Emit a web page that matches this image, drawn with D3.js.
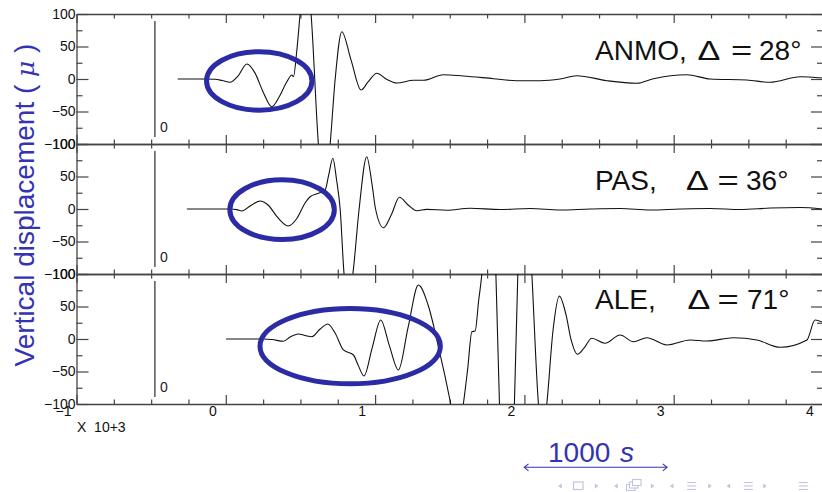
<!DOCTYPE html>
<html>
<head>
<meta charset="utf-8">
<script src="https://cdn.jsdelivr.net/npm/d3@7"></script>
<style>
  body { margin: 0; background: #fff; }
  svg { display: block; font-family: "Liberation Sans", Arial, Helvetica, sans-serif; }
</style>
</head>
<body>
<div id="chart"></div>
<script>
// stations, epicentral distance (deg)
const stations = ['ANMO', 'PAS', 'ALE'];
const distances = [28, 36, 71];

// time (s) and vertical displacement (micron)
const anmoTime = [-322, -172, -72, -25, 29, 82, 141, 196, 250, 308, 357, 409, 442, 453, 476, 498, 535, 571, 620, 658, 699, 732, 777, 839, 906, 953, 1011, 1074, 1145, 1257, 1324, 1458, 1591, 1792, 1949, 2105, 2239, 2351, 2552, 2753, 2864, 3088, 3244, 3490, 3646, 3847, 3994];
const anmoDisp = [0, 0, -0.5, -2.3, -5, 4.6, 23, 9, -20, -42.6, -27.7, -4.2, 6.2, 3.5, 44.6, 100, 170, 100, -100, -185, -100, -1.5, 72.8, 29, -17, -4.6, 8.8, 0, -6.2, -2, -2, 6.6, 4.6, 0.5, -2.6, -2.6, 0, 5.1, -2.6, -6.6, 0.5, 6.6, 0, -1.5, -5.1, 3.5, 1.5];

const pasTime = [-261, 29, 74, 107, 163, 230, 283, 350, 419, 478, 531, 565, 620, 665, 689, 717, 742, 766, 792, 821, 851, 893, 944, 980, 1003, 1056, 1108, 1163, 1221, 1279, 1346, 1480, 1636, 1837, 2038, 2239, 2440, 2641, 2842, 3043, 3244, 3445, 3646, 3847, 3994];
const pasDisp = [0, 0, -1, -3.1, 4.6, 12.3, 6.2, -13.8, -26.2, -13.8, 9.2, 18.9, 24.2, 29.2, 52, 78, 44.6, 0, -100, -140, -100, 0, 80.5, 37, 0, -28.8, -9.2, 18, 6.2, -2.6, -0.5, -2, 1.1, -0.8, 0.8, -1.5, 0, 0.8, -1.5, 0, 0.8, -0.8, 1.5, 2.3, 0];

const aleTime = [2, 252, 310, 386, 431, 486, 531, 576, 632, 683, 732, 788, 855, 886, 926, 980, 1038, 1094, 1156, 1221, 1290, 1355, 1424, 1507, 1549, 1591, 1621, 1648, 1670, 1694, 1715, 1762, 1809, 1833, 1883, 1933, 1956, 2003, 2050, 2094, 2122, 2150, 2192, 2234, 2279, 2313, 2355, 2400, 2451, 2540, 2641, 2730, 2820, 2954, 3110, 3222, 3400, 3557, 3713, 3892, 3947, 3994];
const aleDisp = [0, 0, -0.8, -3.5, 3.1, 7.7, 5.4, 3.5, 15.4, 23.1, 9.2, -16.9, -24.6, -40, -56.9, -14, 29.2, -9, -47.7, 17.7, 83, 52.3, -11.8, -100, -150, -100, -44, 11.2, 12.3, 60, 100, 300, 100, -100, -300, -100, 100, 300, 100, -100, -150, -100, 13.8, 66, 37, -1.5, -23.5, -13.8, 1.1, -6.6, 6.2, -4.2, 2, -9.2, -1.5, -3.1, 2, -1.5, -12.8, -1.5, 29.2, 26];

// picked first arrivals (ellipses): centre time, centre disp, half width (s), half height
const pickTime = [224, 377, 833];
const pickDisp = [-3, -1, -11];
const pickHalfWidth = [353, 350, 604];
const pickHalfHeight = [45, 46, 58];

// axis ticks
const xMajorTicks = [-1000, 0, 1000, 2000, 3000, 4000];
const xMinorTicks = d3.range(-1000, 4001, 250).filter(d => d % 1000 !== 0);
const yMajorTicks = [-100, -50, 0, 50, 100];
const yMinorTicks = [-75, -25, 25, 75];
const markerTime = -475;

const traces = [
  {time: anmoTime, disp: anmoDisp},
  {time: pasTime, disp: pasDisp},
  {time: aleTime, disp: aleDisp}
];

class SeismoChart {

  constructor(_config) {
    this.config = {
      parentElement: _config.parentElement,
      containerWidth: 822,
      containerHeight: 492,
      left: 76.5,
      right: 823,
      top: 14,
      panelHeight: 130
    };
    this.initVis();
  }

  initVis() {
    let vis = this;
    vis.blue = '#3333b3';
    vis.axisColor = '#444';

    vis.svg = d3.select(vis.config.parentElement).append('svg')
      .attr('width', vis.config.containerWidth)
      .attr('height', vis.config.containerHeight);

    vis.x = d3.scaleLinear().domain([-1000, 4000]).range([vis.config.left, vis.config.right]);

    vis.defs = vis.svg.append('defs');

    // label placement for each station: name / delta / equals / number x, baseline offset
    vis.labelPos = [
      {name: 595, delta: 697.5, eq: 731, num: 759, dy: 46},
      {name: 595, delta: 686, eq: 717.5, num: 746, dy: 45.5},
      {name: 595, delta: 687.5, eq: 717.5, num: 747, dy: 35}
    ];

    vis.panels = stations.map((s, i) => {
      const top = vis.config.top + i * vis.config.panelHeight;
      const y = d3.scaleLinear().domain([-100, 100]).range([top + vis.config.panelHeight, top]);
      return {station: s, dist: distances[i], top: top, y: y, trace: traces[i], index: i};
    });

    // y label
    const ylab = vis.svg.append('text')
      .attr('transform', 'translate(33.5,205) rotate(-90)')
      .attr('text-anchor', 'middle')
      .attr('font-size', 28)
      .attr('fill', vis.blue)
      .attr('xml:space', 'preserve');
    ylab.append('tspan').text('Vertical displacement ( ');
    ylab.append('tspan').attr('font-style', 'italic').attr('font-family', 'DejaVu Serif').attr('font-size', 25).text('\u03bc');
    ylab.append('tspan').text(' )');

    vis.renderVis();
  }

  renderVis() {
    let vis = this;
    const ph = vis.config.panelHeight;

    vis.panels.forEach(p => {
      const g = vis.svg.append('g').attr('class', 'panel');
      const bottom = p.top + ph;
      const last = p.index === vis.panels.length - 1;

      // clip for trace
      vis.defs.append('clipPath').attr('id', `clip${p.index}`)
        .append('rect')
        .attr('x', vis.config.left).attr('y', p.top)
        .attr('width', vis.config.right - vis.config.left).attr('height', ph);

      const styleAxis = sel => {
        sel.attr('font-family', null).attr('font-size', 14).attr('color', vis.axisColor);
        sel.selectAll('line').attr('stroke-width', 1.2);
        sel.selectAll('.domain').attr('stroke-width', 1.3);
        sel.selectAll('text').attr('fill', '#111');
      };

      // left axis
      g.append('g').attr('transform', `translate(${vis.config.left},0)`)
        .call(d3.axisLeft(p.y).tickValues(yMajorTicks).tickSizeInner(-12).tickSizeOuter(0).tickPadding(1))
        .call(styleAxis);
      g.append('g').attr('transform', `translate(${vis.config.left},0)`)
        .call(d3.axisLeft(p.y).tickValues(yMinorTicks).tickSizeInner(-6).tickSizeOuter(0).tickFormat(''))
        .call(styleAxis)
        .call(a => a.select('.domain').remove());

      // right axis
      g.append('g').attr('transform', `translate(${vis.config.right},0)`)
        .call(d3.axisRight(p.y).tickValues(yMajorTicks).tickSizeInner(-12).tickSizeOuter(0).tickFormat(''))
        .call(styleAxis);
      g.append('g').attr('transform', `translate(${vis.config.right},0)`)
        .call(d3.axisRight(p.y).tickValues(yMinorTicks).tickSizeInner(-6).tickSizeOuter(0).tickFormat(''))
        .call(styleAxis)
        .call(a => a.select('.domain').remove());

      // top axis
      g.append('g').attr('transform', `translate(0,${p.top})`)
        .call(d3.axisTop(vis.x).tickValues(xMajorTicks).tickSizeInner(-9).tickSizeOuter(0).tickFormat(''))
        .call(styleAxis);
      g.append('g').attr('transform', `translate(0,${p.top})`)
        .call(d3.axisTop(vis.x).tickValues(xMinorTicks).tickSizeInner(-4.5).tickSizeOuter(0).tickFormat(''))
        .call(styleAxis)
        .call(a => a.select('.domain').remove());

      // bottom axis
      g.append('g').attr('transform', `translate(0,${bottom})`)
        .call(d3.axisBottom(vis.x).tickValues(xMajorTicks).tickSizeInner(-9).tickSizeOuter(0).tickPadding(2.5)
          .tickFormat(last ? (d => d3.format('d')(d / 1000)) : ''))
        .call(styleAxis)
        .call(a => a.selectAll('text').attr('x', -13.5));
      g.append('g').attr('transform', `translate(0,${bottom})`)
        .call(d3.axisBottom(vis.x).tickValues(xMinorTicks).tickSizeInner(-4.5).tickSizeOuter(0).tickFormat(''))
        .call(styleAxis)
        .call(a => a.select('.domain').remove());

      // reference marker
      g.append('line')
        .attr('x1', vis.x(markerTime)).attr('x2', vis.x(markerTime))
        .attr('y1', p.top + 7).attr('y2', bottom - 7)
        .attr('stroke', '#555').attr('stroke-width', 1.5);
      g.append('text')
        .attr('x', vis.x(markerTime) + 5).attr('y', bottom - 12.5)
        .attr('font-size', 14).attr('fill', '#222')
        .text('0');

      // trace
      const pts = p.trace.time.map((t, k) => [t, p.trace.disp[k]]);
      const line = d3.line()
        .x(d => vis.x(d[0]))
        .y(d => p.y(d[1]))
        .curve(d3.curveMonotoneX);
      g.append('path')
        .datum(pts)
        .attr('clip-path', `url(#clip${p.index})`)
        .attr('d', line)
        .attr('fill', 'none')
        .attr('stroke', '#111')
        .attr('stroke-width', 1.1)
        .attr('stroke-linejoin', 'round');

      // station label (delta and equals widened like math glyphs)
      const lp = vis.labelPos[p.index];
      const ly = p.top + lp.dy;
      const lab = g.append('g').attr('font-size', 28).attr('fill', '#111');
      lab.append('text').attr('x', lp.name).attr('y', ly).text(`${p.station},`);
      lab.append('text').attr('transform', `translate(${lp.delta},${ly}) scale(1.22,1)`).text('\u0394');
      lab.append('text').attr('transform', `translate(${lp.eq},${ly}) scale(1.3,1)`).text('=');
      lab.append('text').attr('x', lp.num).attr('y', ly).text(`${p.dist}\u00b0`);

      // picked arrival ellipse
      const cx = vis.x(pickTime[p.index]);
      g.append('ellipse')
        .attr('cx', cx)
        .attr('cy', p.y(pickDisp[p.index]))
        .attr('rx', vis.x(pickTime[p.index] + pickHalfWidth[p.index]) - cx)
        .attr('ry', p.y(0) - p.y(pickHalfHeight[p.index]))
        .attr('fill', 'none')
        .attr('stroke', '#2b2ba6')
        .attr('stroke-width', 5);
    });

    // x multiplier
    vis.svg.append('text')
      .attr('x', 77).attr('y', 432)
      .attr('font-size', 14).attr('fill', '#111')
      .attr('xml:space', 'preserve')
      .text('X  10+3');

    // scale bar
    const bar = vis.svg.append('g').attr('class', 'scalebar');
    const sb = bar.append('text')
      .attr('x', 548).attr('y', 461.7)
      .attr('font-size', 28).attr('fill', vis.blue);
    sb.append('tspan').text('1000');
    sb.append('tspan').attr('x', 620).attr('font-style', 'italic').text('s');
    bar.append('line')
      .attr('x1', 524).attr('x2', 667.3).attr('y1', 467.3).attr('y2', 467.3)
      .attr('stroke', vis.blue).attr('stroke-width', 1.1);
    bar.append('path').attr('d', 'M528.5,463.8 L524.3,467.3 L528.5,470.8')
      .attr('fill', 'none').attr('stroke', vis.blue).attr('stroke-width', 1.1);
    bar.append('path').attr('d', 'M662.8,463.8 L667,467.3 L662.8,470.8')
      .attr('fill', 'none').attr('stroke', vis.blue).attr('stroke-width', 1.1);

    // beamer navigation symbols
    const nav = vis.svg.append('g').attr('class', 'nav').attr('fill', '#c3c3e4').attr('stroke', '#c3c3e4');
    const yc = 486;
    const leftTri = x => nav.append('path').attr('d', `M${x + 1.8},${yc - 2.6} L${x - 1.8},${yc} L${x + 1.8},${yc + 2.6} Z`).attr('stroke', 'none');
    const rightTri = x => nav.append('path').attr('d', `M${x - 1.8},${yc - 2.6} L${x + 1.8},${yc} L${x - 1.8},${yc + 2.6} Z`).attr('stroke', 'none');
    const lines3 = x => [-3.5, 0, 3.5].forEach(o => nav.append('line')
      .attr('x1', x - 4.5).attr('x2', x + 4.5).attr('y1', yc + o).attr('y2', yc + o).attr('stroke-width', 1.1));
    leftTri(560);
    nav.append('rect').attr('x', 573.5).attr('y', 482).attr('width', 9.5).attr('height', 7.5).attr('fill', 'none').attr('stroke-width', 1.2);
    rightTri(596.7);
    leftTri(616);
    nav.append('rect').attr('x', 626.5).attr('y', 484.5).attr('width', 8.5).attr('height', 6).attr('fill', '#fff').attr('stroke-width', 1.1);
    nav.append('rect').attr('x', 629.5).attr('y', 482).attr('width', 8.5).attr('height', 6).attr('fill', '#fff').attr('stroke-width', 1.1);
    nav.append('rect').attr('x', 632.5).attr('y', 479.5).attr('width', 8.5).attr('height', 6).attr('fill', '#fff').attr('stroke-width', 1.1);
    rightTri(652.7);
    leftTri(671.7);
    lines3(691.7);
    rightTri(710);
    leftTri(728.3);
    lines3(748.3);
    rightTri(765);
    lines3(803.3);
  }
}

new SeismoChart({parentElement: '#chart'});
</script>
</body>
</html>
